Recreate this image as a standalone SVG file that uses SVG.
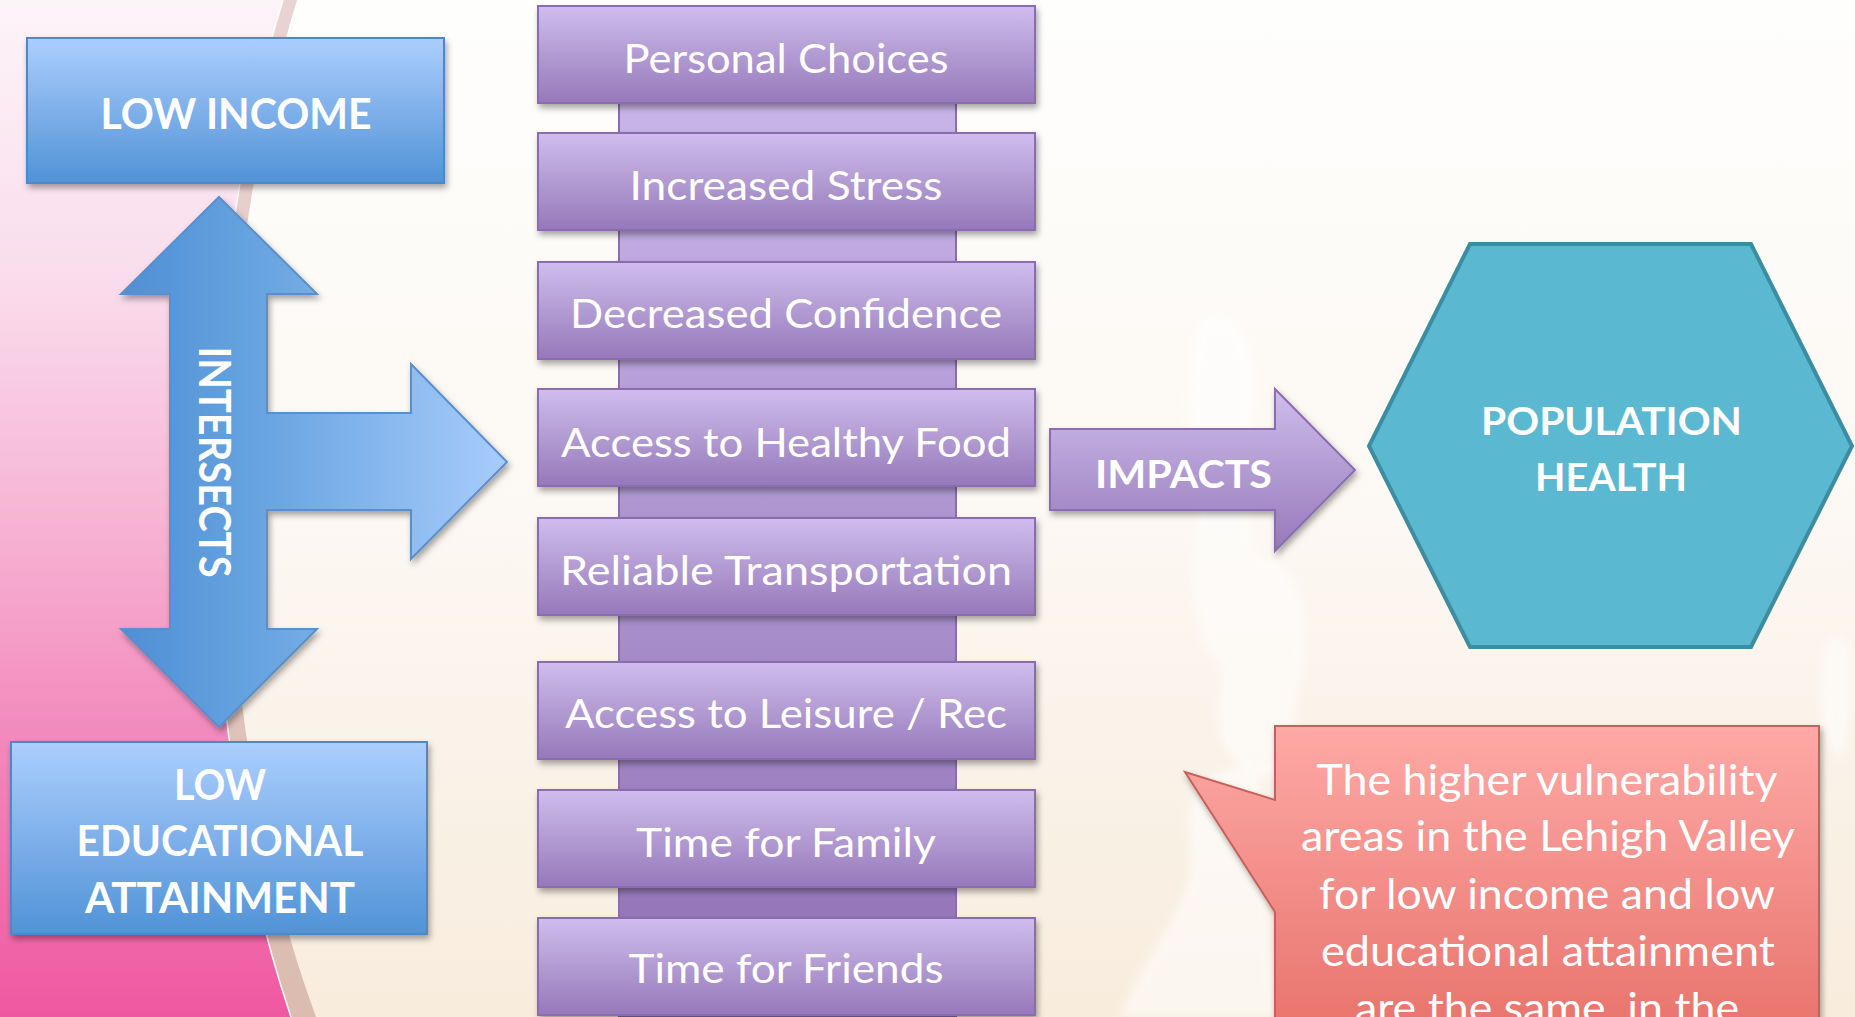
<svg xmlns="http://www.w3.org/2000/svg" width="1855" height="1017" viewBox="0 0 1855 1017">
  <defs>
    <linearGradient id="creamBg" x1="0" y1="0" x2="0" y2="1">
      <stop offset="0" stop-color="#fefefd"/>
      <stop offset="0.5" stop-color="#fcf8f3"/>
      <stop offset="1" stop-color="#f8ecdd"/>
    </linearGradient>
    <linearGradient id="pinkBg" x1="0" y1="0" x2="0" y2="1">
      <stop offset="0" stop-color="#fdf4f8"/>
      <stop offset="0.28" stop-color="#f9dceb"/>
      <stop offset="0.5" stop-color="#f7b6d5"/>
      <stop offset="0.72" stop-color="#f38abd"/>
      <stop offset="1" stop-color="#ef58a0"/>
    </linearGradient>
    <linearGradient id="bandFill" x1="0" y1="0" x2="0" y2="1">
      <stop offset="0" stop-color="#ead3d3"/>
      <stop offset="1" stop-color="#dbbcaf"/>
    </linearGradient>
    <linearGradient id="blueBox" x1="0" y1="0" x2="0" y2="1">
      <stop offset="0" stop-color="#abcffe"/>
      <stop offset="0.5" stop-color="#7fb0ea"/>
      <stop offset="1" stop-color="#5093d6"/>
    </linearGradient>
    <linearGradient id="blueArrow" gradientUnits="userSpaceOnUse" x1="121" y1="0" x2="507" y2="0">
      <stop offset="0" stop-color="#4f8fd4"/>
      <stop offset="0.4" stop-color="#6aa6e2"/>
      <stop offset="1" stop-color="#a8ccfc"/>
    </linearGradient>
    <linearGradient id="purpleBox" x1="0" y1="0" x2="0" y2="1">
      <stop offset="0" stop-color="#d0bdee"/>
      <stop offset="0.5" stop-color="#b29bd2"/>
      <stop offset="1" stop-color="#9678bb"/>
    </linearGradient>
    <linearGradient id="purpleBar" gradientUnits="userSpaceOnUse" x1="0" y1="0" x2="0" y2="1017">
      <stop offset="0" stop-color="#cfbcee"/>
      <stop offset="1" stop-color="#8f70b4"/>
    </linearGradient>
    <linearGradient id="coralFill" gradientUnits="userSpaceOnUse" x1="0" y1="726" x2="0" y2="1017">
      <stop offset="0" stop-color="#fea9a6"/>
      <stop offset="1" stop-color="#e9766f"/>
    </linearGradient>
    <filter id="shadow" x="-10%" y="-10%" width="125%" height="130%">
      <feDropShadow dx="2" dy="4" stdDeviation="3" flood-color="#000" flood-opacity="0.35"/>
    </filter>
    <filter id="soft" x="-20%" y="-20%" width="140%" height="140%">
      <feGaussianBlur stdDeviation="4"/>
    </filter>
  </defs>

  <style>
    .bold { font-family: Lato, "Open Sans", "Liberation Sans", sans-serif; font-weight: 700; fill: #ffffff; text-anchor: middle; }
    .reg { font-family: Lato, "Open Sans", "Liberation Sans", sans-serif; font-weight: 400; fill: #ffffff; text-anchor: middle; }
    .bluebox { fill: url(#blueBox); stroke: #4f88c8; stroke-width: 2; filter: url(#shadow); }
    .step { fill: url(#purpleBox); stroke: #8c6cb1; stroke-width: 2; filter: url(#shadow); }
  </style>

  <!-- backdrop: cream page, pink sweep on the left with a tan border band -->
  <g id="background">
    <rect x="0" y="0" width="1855" height="1017" fill="url(#creamBg)"/>
    <g fill="#ffffff" opacity="0.55" filter="url(#soft)">
      <path d="M1200,320 C1240,300 1265,360 1250,430 C1240,500 1270,580 1245,650 C1220,690 1190,640 1195,560 C1200,480 1175,400 1200,320 Z"/>
      <path d="M1215,560 C1250,540 1300,560 1305,620 C1310,680 1280,720 1300,760 C1260,800 1210,760 1220,700 C1228,650 1200,600 1215,560 Z"/>
      <path d="M1120,1017 C1150,940 1200,900 1190,840 C1180,790 1210,760 1260,770 L1275,1017 Z"/>
      <path d="M1830,640 C1855,620 1855,720 1840,760 C1820,740 1815,680 1830,640 Z"/>
    </g>
    <path d="M0,0 H283 C190,300 190,720 291,1017 H0 Z" fill="url(#pinkBg)"/>
    <path d="M283,0 H297 C205,300 200,700 316,1017 H291 C190,720 190,300 283,0 Z" fill="url(#bandFill)"/>
    <path d="M283,0 C190,300 190,720 291,1017" fill="none" stroke="#ffffff" stroke-width="1.5" opacity="0.9"/>
  </g>

  <!-- connectors -->
  <g id="connectors">
    <!-- double-headed arrow with a branch to the right -->
    <g id="intersects-arrow" filter="url(#shadow)">
      <path d="M219,197 L317,294 H267 V413 H411 V364 L507,462 L411,559 V510 H267 V629 H317 L219,727 L121,629 H170 V294 H121 Z"
            fill="url(#blueArrow)" stroke="#5a8fcb" stroke-width="2" stroke-linejoin="miter"/>
    </g>
    <text class="bold" font-size="43" transform="translate(199,462) rotate(90)" textLength="231" lengthAdjust="spacingAndGlyphs">INTERSECTS</text>

    <!-- vertical spine behind the factor boxes -->
    <rect id="spine" x="619" y="40" width="337" height="990" fill="url(#purpleBar)" stroke="#8c6cb1" stroke-width="2"/>

    <!-- IMPACTS arrow -->
    <g id="impacts-arrow">
      <path d="M1050,429 H1275 V389 L1355,470 L1275,551 V510 H1050 Z" fill="url(#purpleBox)" stroke="#8c6cb1" stroke-width="2" filter="url(#shadow)"/>
      <text class="bold" x="1183.5" y="488" font-size="39" textLength="177" lengthAdjust="spacingAndGlyphs">IMPACTS</text>
    </g>
  </g>

  <!-- left-hand factors -->
  <g id="low-income">
    <rect class="bluebox" x="27" y="38" width="417" height="145"/>
    <text class="bold" x="236" y="129" font-size="42" textLength="271" lengthAdjust="spacingAndGlyphs">LOW INCOME</text>
  </g>

  <g id="low-education">
    <rect class="bluebox" x="11" y="742" width="416" height="192"/>
    <text class="bold" x="220" y="800" font-size="42" textLength="92" lengthAdjust="spacingAndGlyphs">LOW</text>
    <text class="bold" x="220" y="856" font-size="42" textLength="287" lengthAdjust="spacingAndGlyphs">EDUCATIONAL</text>
    <text class="bold" x="220" y="913" font-size="42" textLength="270" lengthAdjust="spacingAndGlyphs">ATTAINMENT</text>
  </g>

  <!-- stacked factor boxes -->
  <g id="personal-choices">
    <rect class="step" x="538" y="6" width="497" height="97"/>
    <text class="reg" x="786" y="73" font-size="41" textLength="325" lengthAdjust="spacingAndGlyphs">Personal Choices</text>
  </g>
  <g id="increased-stress">
    <rect class="step" x="538" y="133" width="497" height="97"/>
    <text class="reg" x="786" y="200" font-size="41" textLength="313" lengthAdjust="spacingAndGlyphs">Increased Stress</text>
  </g>
  <g id="decreased-confidence">
    <rect class="step" x="538" y="262" width="497" height="97"/>
    <text class="reg" x="786" y="328" font-size="41" textLength="432" lengthAdjust="spacingAndGlyphs">Decreased Confidence</text>
  </g>
  <g id="healthy-food">
    <rect class="step" x="538" y="389" width="497" height="97"/>
    <text class="reg" x="786" y="457" font-size="41" textLength="450" lengthAdjust="spacingAndGlyphs">Access to Healthy Food</text>
  </g>
  <g id="transportation">
    <rect class="step" x="538" y="518" width="497" height="97"/>
    <text class="reg" x="786" y="585" font-size="41" textLength="452" lengthAdjust="spacingAndGlyphs">Reliable Transportation</text>
  </g>
  <g id="leisure">
    <rect class="step" x="538" y="662" width="497" height="97"/>
    <text class="reg" x="786" y="728" font-size="41" textLength="442" lengthAdjust="spacingAndGlyphs">Access to Leisure / Rec</text>
  </g>
  <g id="family-time">
    <rect class="step" x="538" y="790" width="497" height="97"/>
    <text class="reg" x="786" y="857" font-size="41" textLength="300" lengthAdjust="spacingAndGlyphs">Time for Family</text>
  </g>
  <g id="friends-time">
    <rect class="step" x="538" y="918" width="497" height="97"/>
    <text class="reg" x="786" y="983" font-size="41" textLength="315" lengthAdjust="spacingAndGlyphs">Time for Friends</text>
  </g>

  <!-- outcome -->
  <g id="population-health">
    <polygon points="1470,244 1751,244 1852,446 1751,647 1470,647 1369,446" fill="#5bb8d1" stroke="#3d8da1" stroke-width="4"/>
    <text class="bold" x="1611.5" y="435" font-size="39" textLength="261" lengthAdjust="spacingAndGlyphs">POPULATION</text>
    <text class="bold" x="1611" y="491" font-size="39" textLength="152" lengthAdjust="spacingAndGlyphs">HEALTH</text>
  </g>

  <!-- note callout -->
  <g id="note">
    <path d="M1275,726 H1819 V1040 H1275 V912 L1185,772 L1275,800 Z" fill="url(#coralFill)" stroke="#c6605a" stroke-width="2" filter="url(#shadow)"/>
    <text class="reg" x="1547" y="795" font-size="42" textLength="461" lengthAdjust="spacingAndGlyphs">The higher vulnerability</text>
    <text class="reg" x="1548" y="851" font-size="42" textLength="494" lengthAdjust="spacingAndGlyphs">areas in the Lehigh Valley</text>
    <text class="reg" x="1547" y="909" font-size="42" textLength="456" lengthAdjust="spacingAndGlyphs">for low income and low</text>
    <text class="reg" x="1548" y="966" font-size="42" textLength="454" lengthAdjust="spacingAndGlyphs">educational attainment</text>
    <text class="reg" x="1547" y="1023" font-size="42" textLength="384" lengthAdjust="spacingAndGlyphs">are the same, in the</text>
  </g>
</svg>
